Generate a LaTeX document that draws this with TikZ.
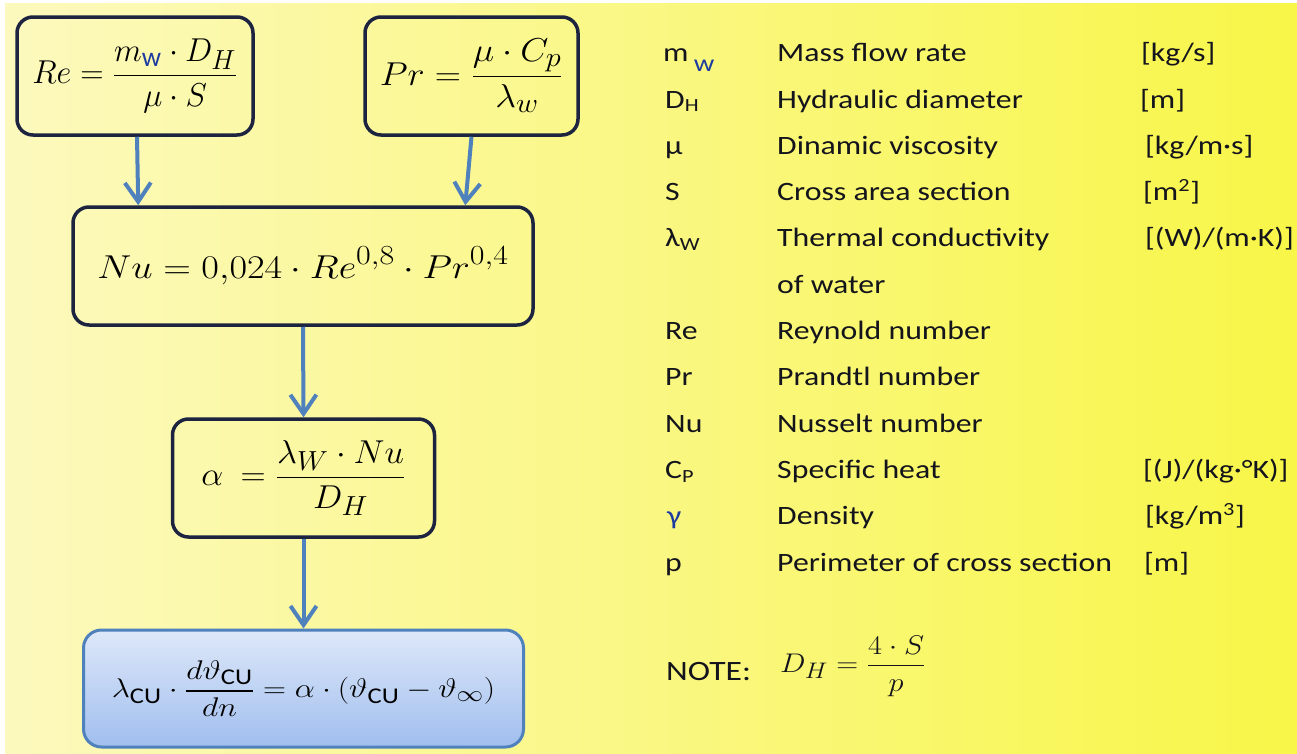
\documentclass[tikz,border=0pt]{standalone}
\usepackage{amsmath}
\usepackage{graphicx}
\usepackage{fontspec}
\setmainfont{Carlito}
\newfontfamily\carl{Carlito}
\usetikzlibrary{arrows.meta,calc}
\definecolor{bgL}{RGB}{252,249,190}
\definecolor{bgM}{RGB}{251,246,148}
\definecolor{bgR}{RGB}{248,246,72}
\definecolor{navy}{RGB}{28,36,64}
\definecolor{arrowblue}{RGB}{79,129,189}
\definecolor{wblue}{RGB}{30,60,160}
\definecolor{boxtop}{RGB}{222,232,249}
\definecolor{boxbot}{RGB}{160,190,238}
\definecolor{txt}{RGB}{20,20,28}
\newcommand\sx[1]{\scalebox{1.2}[1]{#1}}
\tikzset{
  ybox/.style={draw=navy, line width=3.5pt, rounded corners=16pt, inner sep=0pt, font=\fontsize{24.88}{30}\selectfont},
  bbox/.style={draw=arrowblue, line width=3pt, rounded corners=18pt, inner sep=0pt, top color=boxtop, bottom color=boxbot, font=\fontsize{24.88}{30}\selectfont},
  flow/.style={draw=arrowblue, line width=4pt, -{Straight Barb[length=19pt,width=26pt,line width=4pt]}},
  sym/.style={anchor=base west, inner sep=0pt, text=txt, font=\fontsize{26.5}{32}\selectfont},
}
\begin{document}
\begin{tikzpicture}[x=1pt,y=-1pt]
\useasboundingbox (0,0) rectangle (1297,753);
\fill[white] (0,0) rectangle (1297,753);
\shade[left color=bgL, middle color=bgM, right color=bgR] (5,3) rectangle (1297,753);

% boxes
\node[ybox, minimum width=236pt, minimum height=118pt] (re) at (135,76)
  {\scalebox{1.30}[1.33]{$\displaystyle Re = \frac{m_{\textcolor{wblue}{\text{\carl w}}}\cdot D_H}{\mu\cdot S}$}};
\node[ybox, minimum width=213pt, minimum height=118pt] (pr) at (471.5,76)
  {\scalebox{1.46}[1.33]{$\displaystyle Pr = \frac{\mu\cdot C_p}{\lambda_w}$}};
\node[ybox, minimum width=460pt, minimum height=118pt] (nu) at (303,266)
  {\scalebox{1.54}[1.33]{$\displaystyle Nu = 0{,}024\cdot Re^{0{,}8}\cdot Pr^{0{,}4}$}};
\node[ybox, minimum width=262pt, minimum height=118pt] (al) at (303.5,478)
  {\scalebox{1.40}[1.33]{$\displaystyle \alpha\ = \frac{\lambda_W\cdot Nu}{D_H}$}};
\node[bbox, minimum width=440pt, minimum height=117pt] (bt) at (303.5,688.5)
  {\scalebox{1.28}[1.085]{$\displaystyle \lambda_{\text{\carl CU}}\cdot\frac{d\vartheta_{\text{\carl CU}}}{dn} = \alpha\cdot(\vartheta_{\text{\carl CU}}-\vartheta_{\infty})$}};

% connectors
\draw[flow] ($(re.south)+(2,0)$) -- ($(nu.north west)+(67,0)$);
\draw[flow] ($(pr.south)+(0,0)$) -- ($(nu.north west)+(394,0)$);
\draw[flow] (nu.south) -- (al.north);
\draw[flow] (al.south) -- (bt.north);

% symbols
\node[sym] (s1) at (663,61.7) {\sx{m\,\raisebox{-10pt}{\textcolor{wblue}{\fontsize{24}{28}\selectfont w}}}};
\node[sym] (s2) at (665,108) {\sx{D\textsubscript{H}}};
\node[sym] (s3) at (665,154.3) {\sx{μ}};
\node[sym] (s4) at (665,200.6) {\sx{S}};
\node[sym] (s5) at (665,246.9) {\sx{λ\textsubscript{W}}};
\node[sym] (s7) at (665,339.5) {\sx{Re}};
\node[sym] (s8) at (665,385.8) {\sx{Pr}};
\node[sym] (s9) at (665,432.1) {\sx{Nu}};
\node[sym] (s10) at (665,478.4) {\sx{C\textsubscript{P}}};
\node[sym, text=wblue] (s11) at (667,524.7) {\sx{γ}};
\node[sym] (s12) at (665,571) {\sx{p}};

% descriptions
\node[sym] (d1) at (777,61.7) {\sx{Mass flow rate}};
\node[sym] (d2) at (777,108) {\sx{Hydraulic diameter}};
\node[sym] (d3) at (777,154.3) {\sx{Dinamic viscosity}};
\node[sym] (d4) at (777,200.6) {\sx{Cross area section}};
\node[sym] (d5) at (777,246.9) {\sx{Thermal conductivity}};
\node[sym] (d6) at (777,293.2) {\sx{of water}};
\node[sym] (d7) at (777,339.5) {\sx{Reynold number}};
\node[sym] (d8) at (777,385.8) {\sx{Prandtl number}};
\node[sym] (d9) at (777,432.1) {\sx{Nusselt number}};
\node[sym] (d10) at (777,478.4) {\sx{Specific heat}};
\node[sym] (d11) at (777,524.7) {\sx{Density}};
\node[sym] (d12) at (777,571) {\sx{Perimeter of cross section}};

% units
\node[sym] (u1) at (1141,61.7) {\sx{[kg/s]}};
\node[sym] (u2) at (1140,108) {\sx{[m]}};
\node[sym] (u3) at (1145,154.3) {\sx{[kg/m·s]}};
\node[sym] (u4) at (1143,200.6) {\sx{[m\textsuperscript{2}]}};
\node[sym] (u5) at (1145,246.9) {\sx{[(W)/(m·K)]}};
\node[sym] (u10) at (1143,478.4) {\sx{[(J)/(kg·°K)]}};
\node[sym] (u11) at (1145,524.7) {\sx{[kg/m\textsuperscript{3}]}};
\node[sym] (u12) at (1144,571) {\sx{[m]}};

% note
\node[sym, font=\fontsize{28}{34}\selectfont] (note) at (666,680) {\sx{NOTE:}};
\node[anchor=west, inner sep=0pt, text=txt, font=\fontsize{24.88}{30}\selectfont] (dh) at (780,666)
  {\scalebox{1.22}[1.085]{$\displaystyle D_H = \frac{4\cdot S}{p}$}};
\end{tikzpicture}
\end{document}
